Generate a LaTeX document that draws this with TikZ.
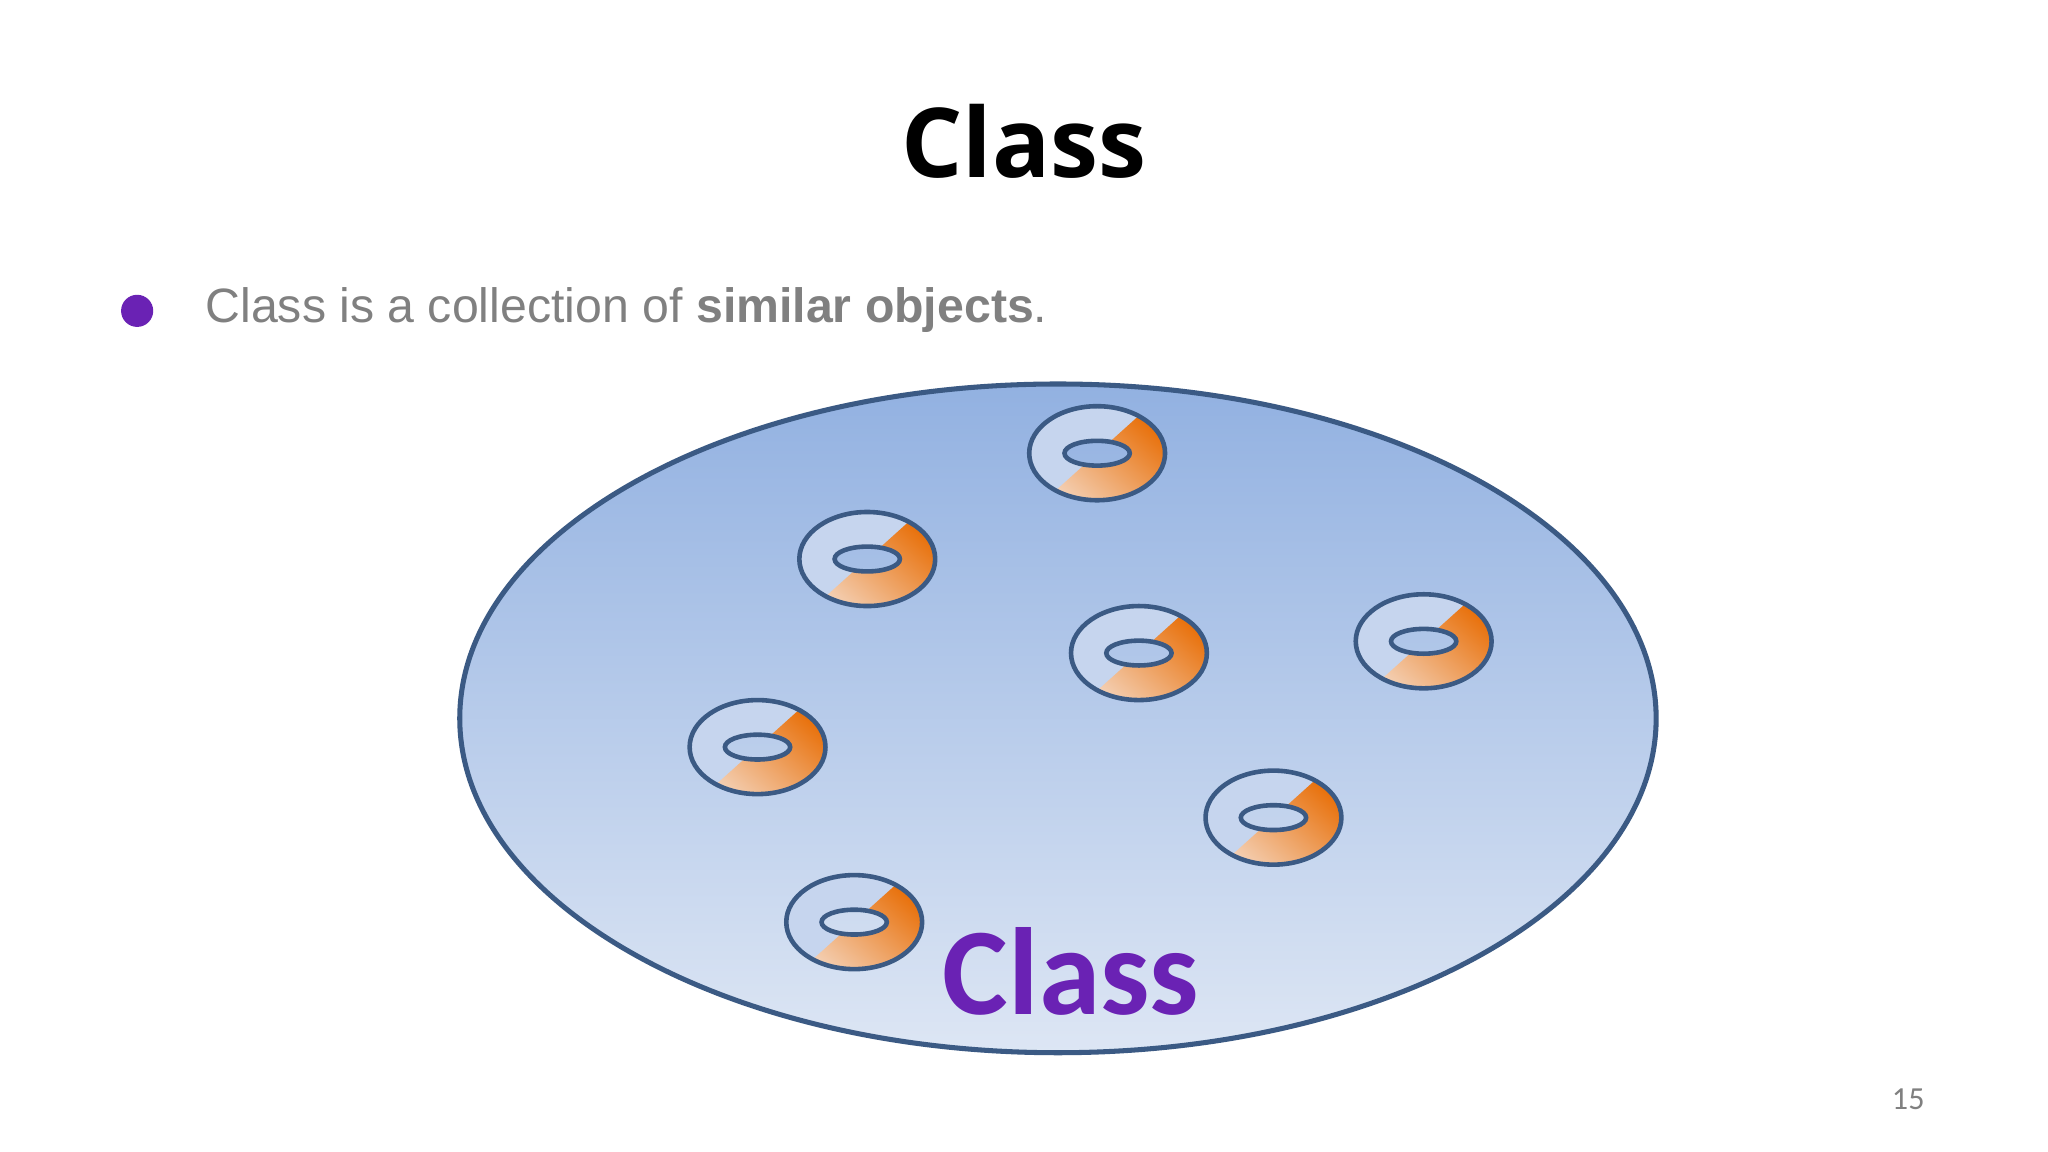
\documentclass[tikz,border=0pt]{standalone}
\usepackage{fontspec}
\setmainfont{Liberation Sans}
\newfontfamily\titlefont{Open Sans}
\newfontfamily\carlfont{Carlito}
\begin{document}
\begin{tikzpicture}[x=0.01cm,y=-0.01cm]
\definecolor{edge}{HTML}{3B5A84}
\definecolor{bgtop}{HTML}{92B1E1}
\definecolor{bgbot}{HTML}{DDE6F4}
\definecolor{lite}{HTML}{C6D5EE}
\definecolor{ordark}{HTML}{E8700A}
\definecolor{orlite}{HTML}{F4D2B8}
\definecolor{purp}{HTML}{6A22B4}
\definecolor{greyt}{HTML}{808080}
\tikzset{
  donut/.pic={
    \fill[lite,even odd rule] (0,0) ellipse [x radius=52,y radius=36] (0,0) ellipse [x radius=25,y radius=9.5];
    \begin{scope}
      \clip (-120,108) -- (120,-108) -- (150,150) -- cycle;
      \shade[even odd rule,left color=ordark,right color=orlite,shading angle=-42] (0,0) ellipse [x radius=52,y radius=36] (0,0) ellipse [x radius=25,y radius=9.5];
    \end{scope}
    \draw[edge,line width=1.0pt] (0,0) ellipse [x radius=52,y radius=36];
    \draw[edge,line width=1.0pt] (0,0) ellipse [x radius=25,y radius=9.5];
  }
}
\useasboundingbox (0,0) rectangle (1568,882);
\fill[white] (0,0) rectangle (1568,882);
\node[font=\titlefont\bfseries\fontsize{21}{24}\selectfont] (title) at (784,108) {Class};
\node[circle,fill=purp,inner sep=0pt,minimum size=7] (dot) at (105,238) {};
\node[anchor=west,text=greyt,font=\fontsize{10.5}{12}\selectfont] (bullet) at (145,237) {Class is a collection of \textbf{similar objects}.};
\shade[top color=bgtop,bottom color=bgbot,draw=edge,line width=1.1pt] (810,550) ellipse [x radius=458,y radius=256];
\foreach \p in {(840,347),(664,428),(872,500),(1090,491),(580,572),(975,626),(654,706)}
  \pic at \p {donut};
\node[text=purp,font=\carlfont\bfseries\fontsize{27}{30}\selectfont] (cls) at (820,744) {Class};
\node[text=greyt,font=\carlfont\fontsize{7}{8}\selectfont] (pg) at (1461,842) {15};
\end{tikzpicture}
\end{document}
